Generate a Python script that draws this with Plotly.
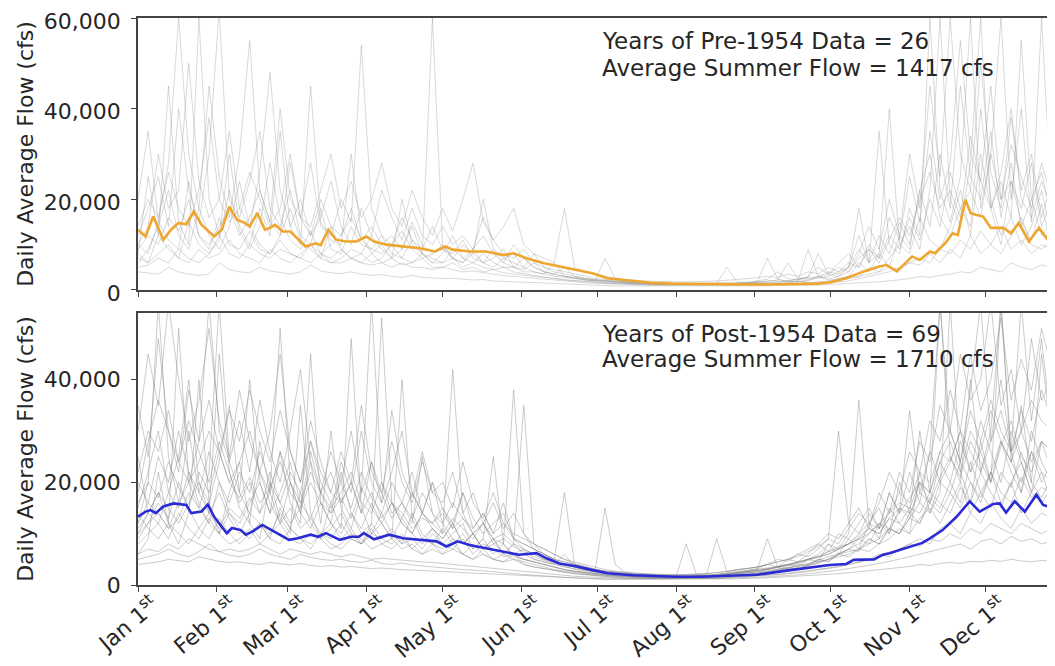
import plotly.graph_objects as go

# ---------------- data (flows in thousands of cfs) ----------------
MONTH_DAYS = [0, 31, 59, 90, 120, 151, 181, 212, 243, 273, 304, 334]
MONTH_LABELS = ["Jan 1<sup>st</sup>", "Feb 1<sup>st</sup>", "Mar 1<sup>st</sup>", "Apr 1<sup>st</sup>",
                "May 1<sup>st</sup>", "Jun 1<sup>st</sup>", "Jul 1<sup>st</sup>", "Aug 1<sup>st</sup>",
                "Sep 1<sup>st</sup>", "Oct 1<sup>st</sup>", "Nov 1<sup>st</sup>", "Dec 1<sup>st</sup>"]

SAMPLE_DAYS = list(range(0, 361, 4))

PRE_YEARS = [
    [12, 18, 25, 14, 40, 22, 15, 30, 62, 20, 16, 24, 35, 18, 14, 22, 12, 10, 18, 9,
     8, 14, 10, 9, 12, 8, 7, 11, 8, 7, 6, 9, 7, 6, 8, 6, 5, 5, 4, 4,
     3.5, 3, 2.8, 2.5, 2.2, 2, 1.8, 1.6, 1.5, 1.4, 1.3, 1.3, 1.2, 1.2, 1.2, 1.1, 1.1, 1.1, 1.1, 1.2,
     1.2, 1.3, 1.3, 1.4, 1.5, 2, 1.6, 1.5, 1.8, 2.5, 3, 6, 4, 8, 5, 12, 9, 22, 14, 30,
     18, 45, 25, 20, 35, 16, 28, 14, 20, 12, 15],
    [8, 6, 12, 9, 7, 15, 10, 8, 11, 22, 13, 9, 14, 28, 16, 11, 9, 13, 8, 10,
     12, 18, 11, 9, 8, 10, 13, 9, 7, 8, 10, 7, 6, 9, 12, 8, 6, 5, 7, 5,
     4, 3.5, 5, 3, 2.5, 2.2, 2, 1.8, 1.6, 1.5, 1.4, 1.3, 1.3, 1.2, 1.2, 1.2, 1.2, 1.3, 1.2, 1.3,
     1.4, 1.5, 1.4, 1.5, 1.6, 1.8, 2, 3, 2.2, 2.5, 3, 2.8, 5, 4, 7, 10, 8, 16, 11, 9,
     14, 22, 12, 30, 18, 10, 24, 15, 11, 19, 9],
    [4, 3.8, 3.5, 5, 4, 3.5, 3.2, 3.5, 6, 4.5, 4, 3.8, 5, 4.2, 3.8, 3.5, 4, 5.5, 4.2, 3.8,
     3.6, 4, 3.5, 3.2, 3.4, 3, 2.8, 3.2, 2.8, 2.6, 2.5, 2.6, 2.4, 2.2, 2.3, 2, 1.9, 1.8, 1.7, 1.6,
     1.5, 1.4, 1.3, 1.2, 1.1, 1.0, 1.0, 0.9, 0.9, 0.9, 0.9, 0.8, 0.8, 0.8, 0.8, 0.8, 0.8, 0.8, 0.8, 0.9,
     0.9, 0.9, 0.9, 1.0, 1.0, 1.0, 1.1, 1.1, 1.2, 1.3, 1.4, 1.5, 1.6, 1.8, 2, 2.2, 2.5, 3, 2.8, 3.2,
     3.5, 4, 3.8, 5, 4.5, 4, 6, 5, 4.5, 5.5, 5],
    [20, 35, 15, 28, 60, 30, 18, 45, 25, 16, 30, 55, 22, 15, 40, 20, 16, 28, 14, 12,
     20, 15, 54, 18, 12, 10, 16, 11, 9, 14, 9, 8, 11, 7, 6, 9, 7, 6, 5, 8,
     5, 4, 3.5, 3, 2.6, 2.3, 2.1, 2, 1.8, 1.7, 1.6, 1.5, 1.5, 1.4, 1.4, 1.3, 1.3, 1.4, 1.5, 1.4,
     1.5, 1.8, 7, 2.5, 1.8, 2, 9, 3, 2.5, 3, 4, 8, 14, 9, 20, 12, 30, 18, 45, 25,
     60, 30, 22, 50, 26, 18, 38, 22, 30, 16, 24],
    [6, 9, 14, 22, 12, 9, 18, 12, 9, 14, 24, 14, 10, 8, 12, 18, 11, 9, 7, 14,
     9, 7, 8, 12, 9, 7, 20, 10, 8, 6, 8, 12, 7, 9, 6, 5, 7, 8, 5, 4,
     3.5, 6, 3, 2.6, 2.2, 2.0, 7, 2.5, 1.8, 1.6, 1.5, 1.4, 1.3, 1.3, 1.2, 1.2, 1.3, 1.3, 1.3, 1.3,
     1.4, 1.6, 1.5, 1.7, 2, 1.8, 2.2, 2.5, 3, 4, 5, 9, 6, 12, 8, 15, 10, 22, 30, 16,
     12, 18, 14, 40, 20, 12, 16, 10, 14, 22, 12],
    [10, 14, 30, 18, 22, 50, 24, 16, 20, 35, 18, 14, 26, 48, 22, 14, 20, 12, 16, 24,
     14, 10, 18, 12, 22, 16, 11, 18, 12, 10, 14, 10, 12, 9, 16, 11, 8, 7, 9, 6,
     5, 4.5, 4, 3.5, 3, 2.6, 2.3, 2.1, 2, 1.8, 1.7, 1.6, 1.5, 1.5, 1.5, 1.4, 1.5, 1.6, 1.5, 1.6,
     1.7, 2, 2.4, 4, 2.5, 2.2, 3, 5, 3.5, 6, 8, 5, 10, 7, 16, 11, 25, 15, 35, 20,
     28, 55, 30, 24, 45, 20, 32, 25, 18, 28, 20],
    [5, 5.5, 7, 6, 9, 7, 6, 8, 12, 8, 7, 10, 8, 7, 9, 8, 7, 6, 8, 6,
     6, 7, 6, 5.5, 6, 5, 6, 5, 5, 4.5, 5, 4.5, 4, 4.2, 3.8, 3.5, 3.2, 3, 2.8, 2.5,
     2.3, 2.1, 2, 1.8, 1.6, 1.5, 1.4, 1.3, 1.2, 1.2, 1.1, 1.1, 1.1, 1.0, 1.0, 1.0, 1.0, 1.0, 1.0, 1.0,
     1.0, 1.1, 1.1, 1.2, 1.2, 1.3, 1.4, 1.5, 1.6, 1.8, 2, 2.5, 3, 3.5, 4, 5, 6, 5.5, 8, 6,
     9, 7, 12, 8, 10, 14, 9, 11, 8, 10, 9],
    [8, 25, 12, 45, 15, 10, 60, 20, 12, 30, 14, 10, 18, 12, 35, 14, 10, 45, 15, 11,
     10, 30, 12, 8, 10, 7, 9, 14, 8, 60, 10, 7, 6, 8, 20, 9, 6, 10, 7, 5,
     4, 3.5, 3, 2.8, 2.5, 2.2, 2, 1.9, 1.8, 1.7, 1.6, 1.5, 1.5, 1.4, 1.4, 1.4, 1.4, 1.5, 1.4, 1.5,
     1.6, 1.7, 1.9, 2.2, 2, 2.5, 2.8, 8, 3.5, 3, 5, 12, 6, 35, 10, 8, 18, 12, 60, 22,
     15, 25, 60, 18, 30, 60, 20, 40, 15, 60, 18],
    [14, 20, 16, 26, 18, 14, 22, 38, 20, 15, 18, 26, 20, 14, 18, 30, 16, 12, 20, 14,
     12, 16, 11, 14, 10, 12, 9, 15, 10, 8, 9, 7, 10, 8, 6, 7, 9, 5, 4.5, 6,
     4, 3.4, 3, 2.6, 2.3, 2.1, 1.9, 1.7, 1.6, 1.5, 1.4, 1.4, 1.3, 1.3, 1.3, 1.3, 1.4, 1.4, 5, 1.8,
     1.6, 1.8, 2, 2.2, 6, 2.5, 2.4, 2.8, 3.5, 5, 4, 7, 9, 6, 11, 16, 12, 20, 26, 18,
     22, 16, 34, 24, 18, 26, 40, 20, 16, 24, 18],
    [7, 6, 8, 10, 7, 6, 9, 7, 8, 11, 8, 7, 6, 9, 7, 6, 8, 10, 7, 6,
     7, 9, 8, 6, 7, 10, 7, 6, 8, 6, 6, 7, 5, 6, 5, 4.5, 5, 4, 3.6, 3.2,
     2.8, 2.5, 2.2, 2, 1.8, 1.6, 1.5, 1.4, 1.3, 1.2, 1.2, 1.1, 1.1, 1.1, 1.1, 1.1, 1.1, 1.1, 1.1, 1.2,
     1.2, 1.2, 1.3, 1.3, 1.4, 1.5, 1.6, 1.8, 2, 2.2, 2.5, 3, 3.5, 4, 5, 4.5, 6, 7, 6, 9,
     8, 11, 9, 13, 10, 8, 12, 16, 10, 9, 11],
    [9, 12, 10, 16, 13, 20, 12, 10, 14, 18, 12, 16, 22, 15, 12, 28, 16, 14, 22, 30,
     18, 24, 16, 20, 28, 18, 14, 22, 16, 12, 18, 13, 20, 28, 15, 11, 14, 18, 10, 8,
     7, 6, 18, 5, 4, 3.5, 3, 2.6, 2.3, 2.1, 2, 1.9, 1.8, 1.8, 1.8, 1.8, 1.9, 2, 2.1, 2.3,
     2.5, 2.7, 3, 2.8, 3.5, 3, 4, 3.6, 5, 4, 6, 5, 9, 7, 12, 9, 16, 11, 20, 14,
     26, 18, 22, 16, 30, 20, 24, 18, 28, 14, 20],
    [10, 8, 15, 11, 9, 24, 12, 9, 16, 10, 9, 13, 9, 8, 11, 8, 7, 10, 8, 7,
     9, 7, 6, 8, 6, 7, 5.5, 6, 7, 5, 5, 6, 4.5, 5, 4, 4.5, 3.8, 3.5, 3.2, 3,
     2.8, 2.5, 2.3, 2.1, 1.9, 1.8, 1.6, 1.5, 1.4, 1.3, 1.3, 1.2, 1.2, 1.2, 1.2, 1.2, 1.2, 1.2, 1.3, 1.3,
     1.4, 1.5, 1.6, 1.8, 2, 2.3, 2.6, 3, 4, 3.5, 5, 18, 6, 8, 40, 10, 14, 9, 22, 60,
     20, 14, 28, 60, 18, 24, 16, 55, 20, 26, 16],
]

POST_YEARS = [
    [15, 22, 30, 18, 25, 40, 20, 16, 24, 35, 18, 14, 22, 16, 12, 20, 14, 11, 16, 12,
     10, 14, 11, 16, 12, 9, 13, 10, 8, 11, 9, 12, 8, 10, 7, 9, 6, 8, 6, 5,
     4.5, 4, 3.5, 3, 2.6, 2.3, 2.1, 2, 1.8, 1.7, 1.6, 1.5, 1.5, 1.4, 1.4, 1.5, 1.6, 1.7, 1.8, 2,
     2.1, 2.3, 2.6, 3, 3.2, 3.6, 4, 4.5, 5, 6, 7, 9, 8, 12, 10, 15, 13, 20, 16, 24,
     20, 28, 22, 32, 26, 20, 30, 24, 18, 28, 22],
    [8, 10, 12, 9, 14, 11, 9, 13, 10, 8, 9, 11, 8, 10, 12, 9, 8, 10, 9, 7,
     8, 10, 9, 7, 8, 9, 7, 8, 6, 7, 6, 7, 6, 5, 6, 5, 4.5, 5, 4, 3.5,
     3.2, 2.8, 2.5, 2.2, 2, 1.8, 1.6, 1.5, 1.4, 1.3, 1.3, 1.2, 1.2, 1.2, 1.2, 1.2, 1.3, 1.3, 1.4, 1.5,
     1.6, 1.7, 1.8, 2, 2.2, 2.4, 2.6, 3, 3.2, 3.5, 4, 4.5, 5, 6, 5.5, 7, 8, 9, 8, 11,
     12, 10, 14, 12, 16, 13, 11, 15, 12, 14, 13],
    [30, 45, 35, 55, 40, 28, 36, 50, 32, 25, 38, 28, 22, 30, 45, 26, 20, 32, 24, 18,
     26, 20, 35, 22, 18, 28, 20, 16, 24, 18, 16, 22, 14, 18, 12, 16, 11, 14, 10, 8,
     7, 6, 5, 4.5, 4, 3.5, 3, 2.7, 2.5, 2.3, 2.2, 2.1, 2, 2, 2, 2.1, 2.2, 2.4, 2.6, 3,
     3.2, 3.5, 4, 4.5, 5, 6, 7, 8, 10, 9, 12, 15, 11, 18, 14, 22, 18, 28, 24, 35,
     30, 45, 36, 40, 55, 35, 42, 30, 48, 36, 40],
    [4, 4.2, 4.5, 5, 4.8, 4.5, 5.5, 5, 4.6, 4.4, 4.5, 4.2, 4, 4.4, 4.1, 3.9, 4.2, 3.8, 3.6, 3.8,
     3.5, 3.6, 3.4, 3.2, 3.3, 3.1, 3, 2.9, 2.8, 2.7, 2.6, 2.5, 2.4, 2.3, 2.2, 2.1, 2, 1.9, 1.8, 1.7,
     1.6, 1.5, 1.4, 1.3, 1.2, 1.2, 1.1, 1.1, 1.1, 1.1, 1.1, 1.1, 1.1, 1.1, 1.1, 1.1, 1.1, 1.2, 1.2, 1.2,
     1.3, 1.3, 1.4, 1.5, 1.6, 1.7, 1.8, 1.9, 2, 2.2, 2.4, 2.6, 2.8, 3, 3.2, 3.4, 3.6, 4, 3.8, 4.2,
     4.4, 4.2, 4.6, 4.5, 4.8, 4.6, 5, 4.7, 4.5, 4.8, 4.6],
    [12, 20, 55, 25, 16, 30, 18, 14, 45, 22, 15, 12, 28, 18, 50, 20, 14, 24, 12, 30,
     15, 11, 18, 55, 20, 14, 16, 12, 25, 14, 10, 42, 14, 10, 12, 9, 8, 38, 10, 7,
     6, 5, 4, 3.5, 3, 2.6, 2.3, 2.1, 2, 1.9, 1.8, 1.7, 1.7, 1.6, 1.6, 1.6, 1.7, 1.8, 2, 2.2,
     2.4, 2.6, 3, 3.5, 3.8, 4.5, 5, 6, 8, 7, 10, 36, 12, 15, 10, 20, 14, 30, 18, 55,
     25, 20, 40, 22, 30, 55, 24, 35, 20, 45, 28],
    [10, 14, 12, 18, 15, 22, 16, 12, 20, 14, 12, 16, 20, 14, 18, 24, 16, 13, 18, 22,
     16, 20, 14, 24, 18, 13, 16, 22, 14, 12, 15, 11, 18, 13, 10, 12, 14, 9, 8, 7,
     6, 5, 4.5, 4, 3.5, 3, 2.6, 2.3, 2.1, 2, 1.9, 1.8, 1.7, 1.7, 1.7, 1.7, 1.8, 1.9, 2, 2.2,
     2.3, 2.5, 2.8, 3, 3.4, 3.8, 4.2, 4.8, 5.5, 6, 6.5, 7, 8, 9, 11, 10, 13, 12, 16, 14,
     18, 15, 20, 17, 22, 18, 16, 21, 17, 19, 18],
    [18, 28, 36, 30, 24, 32, 26, 20, 28, 22, 16, 20, 14, 18, 12, 15, 11, 13, 10, 12,
     9, 11, 8, 10, 9, 8, 10, 7, 9, 8, 7, 9, 6, 8, 6, 5, 6, 5, 4.5, 4,
     3.5, 3, 2.7, 2.4, 2.2, 2, 1.8, 1.7, 1.6, 1.5, 1.5, 1.4, 1.4, 1.4, 1.4, 1.5, 1.5, 1.6, 1.7, 1.9,
     2, 2.2, 2.5, 3, 3.5, 3, 4, 5, 4.5, 6, 7, 8, 10, 12, 11, 14, 17, 20, 18, 24,
     28, 22, 30, 26, 34, 28, 24, 30, 36, 32, 30],
    [6, 9, 22, 12, 8, 14, 40, 16, 10, 18, 24, 12, 9, 20, 13, 10, 35, 14, 9, 16,
     11, 48, 15, 10, 12, 9, 40, 13, 9, 11, 8, 10, 12, 7, 9, 25, 8, 6, 7, 5,
     4.5, 4, 6, 3.5, 3, 2.6, 15, 4, 2.4, 2.1, 2, 1.8, 1.7, 1.6, 8, 2, 1.8, 1.9, 2.2, 2.5,
     2.6, 3, 9, 3.5, 4, 3.6, 5, 4.5, 8, 6, 9, 7, 12, 9, 15, 12, 10, 22, 14, 18,
     55, 22, 16, 28, 20, 55, 26, 18, 30, 24, 20],
    [20, 16, 25, 20, 30, 22, 18, 26, 20, 16, 22, 18, 26, 20, 16, 22, 18, 28, 20, 16,
     20, 15, 22, 17, 14, 20, 16, 13, 18, 14, 12, 16, 13, 11, 14, 10, 12, 9, 7, 6,
     5, 4.5, 4, 3.5, 3, 2.7, 2.4, 2.2, 2, 1.9, 1.8, 1.7, 1.7, 1.6, 1.6, 1.7, 1.8, 2, 2.4, 2.6,
     2.8, 3, 3.3, 3.6, 4, 4.5, 5, 5.5, 6, 7, 8, 9, 10, 12, 14, 16, 15, 20, 18, 26,
     24, 30, 26, 22, 28, 34, 26, 30, 24, 28, 26],
    [6, 7, 6.5, 8, 7, 9, 8, 7, 6.5, 7, 6.5, 7, 8, 7, 6, 7, 6.5, 6, 6.5, 6,
     5.5, 6, 5.5, 5, 5.2, 5, 4.8, 4.6, 4.5, 4.4, 4.2, 4, 3.8, 3.6, 3.4, 3.2, 3, 2.8, 2.6, 2.4,
     2.2, 2, 1.8, 1.7, 1.6, 1.5, 1.4, 1.4, 1.3, 1.3, 1.3, 1.3, 1.3, 1.3, 1.3, 1.3, 1.4, 1.4, 1.5, 1.6,
     1.7, 1.8, 2, 2.1, 2.3, 2.5, 2.7, 3, 3.3, 3.6, 4, 4.4, 5, 5.5, 6, 7, 8, 7.5, 9, 8.5,
     10, 9, 11, 10, 12, 11, 10, 12, 11, 10, 11],
    [25, 14, 18, 12, 50, 20, 15, 22, 55, 24, 18, 40, 20, 14, 26, 16, 12, 45, 16, 12,
     22, 14, 10, 12, 52, 16, 12, 10, 14, 20, 12, 9, 8, 10, 7, 9, 6, 8, 35, 8,
     6, 5, 18, 4, 3.4, 3, 2.7, 2.5, 2.3, 2.2, 2.1, 2, 2, 1.9, 1.9, 2, 2.1, 9, 2.6, 3,
     3.2, 3.5, 4, 5, 4.6, 6, 5.5, 7, 9, 30, 12, 10, 14, 11, 18, 14, 34, 18, 26, 55,
     30, 24, 38, 55, 28, 40, 26, 55, 32, 48, 30],
    [12, 16, 14, 11, 13, 18, 15, 12, 10, 14, 11, 9, 12, 10, 14, 11, 9, 8, 10, 9,
     12, 9, 8, 10, 14, 10, 8, 9, 7, 10, 8, 7, 9, 6, 8, 7, 5.5, 6, 5, 4.5,
     4, 3.4, 3, 2.6, 2.3, 2.1, 1.9, 1.8, 1.7, 1.6, 1.5, 1.5, 1.5, 1.5, 1.5, 1.5, 1.6, 1.7, 1.8, 2,
     2.1, 2.3, 2.5, 2.8, 3, 3.4, 3.8, 4.2, 5, 5.5, 6, 7, 6.5, 8, 9, 11, 10, 13, 15, 12,
     16, 20, 14, 18, 22, 16, 20, 14, 18, 22, 16],
    [22, 30, 26, 34, 24, 20, 28, 36, 26, 20, 24, 30, 22, 18, 26, 20, 16, 22, 18, 15,
     18, 22, 16, 14, 20, 16, 13, 18, 14, 12, 14, 11, 13, 10, 12, 9, 10, 8, 7, 6,
     5, 4.5, 4, 3.4, 3, 2.7, 2.4, 2.2, 2, 1.9, 1.8, 1.8, 1.7, 1.7, 1.7, 1.8, 1.9, 2, 2.2, 2.4,
     2.6, 2.9, 3.2, 3.6, 4, 4.4, 5, 5.5, 6.5, 7, 8, 10, 12, 11, 14, 18, 16, 22, 20, 26,
     30, 24, 34, 28, 36, 30, 26, 34, 28, 38, 32],
    [9, 12, 16, 13, 20, 15, 11, 14, 18, 13, 10, 14, 12, 9, 15, 11, 18, 12, 9, 11,
     14, 10, 8, 12, 9, 11, 8, 14, 10, 8, 11, 8, 10, 7, 9, 6, 8, 5.5, 5, 4.5,
     4, 3.5, 3, 2.7, 2.4, 2.2, 2, 1.8, 1.7, 1.6, 1.5, 1.5, 1.4, 1.4, 1.4, 1.4, 1.5, 1.6, 1.7, 1.9,
     2, 2.2, 2.4, 2.8, 3.2, 3, 3.8, 4.4, 5, 6, 5.5, 7, 9, 8, 11, 10, 14, 12, 17, 15,
     20, 16, 24, 18, 15, 22, 19, 26, 20, 17, 21],
    [35, 25, 48, 30, 22, 38, 28, 55, 30, 24, 32, 22, 36, 26, 20, 30, 42, 24, 18, 26,
     20, 30, 18, 24, 16, 22, 30, 18, 14, 20, 15, 12, 18, 11, 14, 10, 16, 9, 8, 7,
     6, 5, 4.5, 4, 3.5, 3, 2.7, 2.5, 2.3, 2.2, 2.1, 2, 2, 2, 2, 2.1, 2.2, 2.4, 2.6, 2.9,
     3.2, 3.5, 4, 4.5, 5, 5.5, 6.5, 7.5, 9, 8, 11, 14, 12, 16, 22, 18, 26, 22, 32, 28,
     38, 30, 45, 34, 40, 52, 36, 44, 38, 50, 42],
    [11, 14, 18, 15, 12, 16, 20, 14, 11, 15, 13, 17, 14, 22, 16, 12, 15, 26, 18, 14,
     24, 18, 30, 20, 16, 34, 22, 17, 26, 18, 20, 15, 24, 16, 13, 18, 12, 10, 9, 8,
     7, 6, 5, 4.2, 3.6, 3.1, 2.7, 2.4, 2.2, 2, 1.9, 1.8, 1.8, 1.7, 1.7, 1.8, 1.9, 2, 2.2, 2.4,
     2.6, 2.8, 3.1, 3.5, 3.9, 4.4, 5, 5.6, 6.5, 7.5, 8, 9, 11, 10, 13, 12, 15, 14, 18, 16,
     14, 19, 16, 22, 18, 15, 20, 24, 18, 16, 19],
    [5, 5.5, 6, 7, 6, 5.5, 6.5, 8, 6.5, 5.8, 5.5, 6, 7, 6, 5.5, 5, 6, 5.4, 5, 4.8,
     5, 4.6, 4.4, 4.8, 4.2, 4, 4.3, 3.9, 3.7, 3.5, 3.4, 3.2, 3, 2.9, 2.8, 2.6, 2.4, 2.2, 2, 1.9,
     1.8, 1.6, 1.5, 1.4, 1.3, 1.3, 1.2, 1.2, 1.2, 1.2, 1.2, 1.2, 1.2, 1.2, 1.2, 1.2, 1.2, 1.3, 1.3, 1.4,
     1.4, 1.5, 1.6, 1.7, 1.8, 2, 2.2, 2.4, 2.6, 2.9, 3.2, 3.5, 3.8, 4.2, 4.6, 5, 5.5, 6, 6.5, 7,
     7.5, 8, 7, 8.5, 9, 8, 9.5, 8.5, 9, 8, 8.5],
    [10, 12, 14, 11, 16, 20, 24, 30, 26, 34, 28, 38, 30, 24, 34, 26, 20, 28, 22, 18,
     16, 20, 14, 18, 13, 16, 12, 10, 14, 11, 9, 12, 8, 10, 7, 8, 6.5, 6, 5, 4.5,
     4, 3.5, 3, 2.7, 2.4, 2.2, 2, 1.8, 1.7, 1.6, 1.6, 1.5, 1.5, 1.5, 1.5, 1.6, 1.7, 1.8, 2, 2.2,
     2.4, 2.6, 3, 3.4, 3.2, 4, 3.8, 5, 4.6, 6, 7, 6.5, 9, 8, 11, 10, 13, 16, 14, 20,
     18, 24, 20, 16, 22, 28, 22, 18, 26, 20, 24],
    [14, 11, 9, 12, 10, 8, 11, 9, 13, 10, 8, 10, 12, 9, 8, 11, 9, 7, 10, 8,
     7, 9, 8, 11, 8, 7, 9, 7, 6, 8, 6, 8, 6, 5, 7, 5, 4.5, 6, 4, 3.5,
     3.2, 2.8, 2.5, 2.2, 2, 1.8, 1.7, 1.6, 1.5, 1.5, 1.4, 1.4, 1.4, 1.4, 1.4, 1.5, 1.6, 1.8, 2, 2.4,
     2.8, 3.2, 4, 3.5, 5, 4.5, 6, 8, 6.5, 10, 9, 12, 15, 11, 18, 14, 22, 16, 26, 20,
     24, 30, 22, 26, 20, 28, 24, 20, 26, 22, 20],
    [16, 20, 17, 24, 19, 15, 22, 18, 26, 20, 17, 21, 16, 19, 24, 18, 15, 20, 16, 14,
     17, 13, 19, 15, 12, 16, 14, 11, 13, 12, 10, 13, 11, 9, 12, 8, 9, 7.5, 6.5, 5.5,
     4.8, 4.2, 3.6, 3.2, 2.8, 2.5, 2.3, 2.1, 1.9, 1.8, 1.7, 1.7, 1.6, 1.6, 1.6, 1.7, 1.8, 1.9, 2.1, 2.3,
     2.5, 2.8, 3.1, 3.4, 3.8, 4.2, 4.8, 5.4, 6, 7, 8, 9.5, 11, 10, 13, 15, 14, 18, 16, 21,
     25, 21, 28, 24, 20, 27, 32, 25, 22, 28, 26],
]

PRE_MEAN_DAYS = [0, 3, 6, 10, 13, 16, 19, 22, 25, 30, 33, 36, 39, 42, 44, 47, 50, 52, 54, 57,
                 60, 66, 70, 72, 75, 78, 82, 86, 90, 93, 98, 104, 111, 117, 121, 124, 131, 137, 144, 148,
                 153, 160, 166, 173, 179, 185, 189, 195, 202, 210, 220, 230, 240, 250, 260, 268, 273, 279, 286, 292,
                 295, 299, 305, 308, 312, 314, 318, 321, 323, 326, 328, 330, 333, 336, 341, 344, 347, 351, 355, 358, 361]
PRE_MEAN = [13.3, 11.8, 16.2, 11.1, 13.3, 14.8, 14.5, 17.3, 14.4, 11.8, 13.3, 18.4, 15.5, 14.8, 14.0, 17.0, 13.3, 13.7, 14.4, 12.9,
            12.9, 9.6, 10.3, 9.9, 13.3, 11.1, 10.7, 10.7, 11.8, 10.7, 10.0, 9.6, 9.2, 8.5, 9.6, 8.9, 8.5, 8.5, 7.7, 8.1,
            7.0, 5.9, 5.2, 4.4, 3.7, 2.6, 2.4, 2.0, 1.6, 1.4, 1.3, 1.3, 1.2, 1.2, 1.3, 1.4, 1.7, 2.6, 4.1, 5.2,
            5.5, 4.1, 7.4, 6.6, 8.5, 8.1, 10.3, 12.5, 12.1, 19.9, 17.0, 16.6, 16.2, 13.7, 13.7, 12.5, 14.8, 10.7, 13.7, 11.4, 14.4]

POST_MEAN_DAYS = [0, 3, 5, 7, 10, 14, 19, 21, 25, 27.5, 30, 35, 37, 40.5, 42.5, 45, 49, 53.5, 59.5, 63,
                  68, 71, 74, 79.5, 84, 87, 89, 93, 99, 104.5, 111, 117.6, 121.5, 126, 130.6, 137, 144, 150, 157, 161,
                  166, 173, 179, 185, 195, 205, 212, 222, 232, 244, 257, 272.5, 279, 282, 290, 293.5, 296, 303, 309, 312,
                  317, 322.5, 327.7, 331.6, 337, 339.5, 342, 345.4, 349.4, 354, 356.6, 360.5]
POST_MEAN = [13.3, 14.3, 14.6, 14.0, 15.3, 15.9, 15.6, 14.0, 14.3, 15.7, 13.3, 10.1, 11.1, 10.7, 9.8, 10.4, 11.7, 10.4, 8.8, 9.1,
             9.8, 9.4, 10.1, 8.8, 9.4, 9.4, 10.1, 8.9, 9.8, 9.1, 8.8, 8.5, 7.5, 8.5, 7.8, 7.2, 6.5, 5.9, 6.2, 5.2,
             4.2, 3.6, 2.9, 2.3, 1.9, 1.7, 1.6, 1.6, 1.8, 2.0, 2.9, 3.9, 4.1, 4.9, 5.0, 5.9, 6.2, 7.2, 8.2, 9.1,
             10.7, 13.3, 16.3, 14.3, 15.8, 15.9, 14.1, 16.3, 14.3, 17.6, 15.6, 15.0]

PRE_TEXT = ["Years of Pre-1954 Data = 26", "Average Summer Flow = 1417 cfs"]
POST_TEXT = ["Years of Post-1954 Data = 69", "Average Summer Flow = 1710 cfs"]

KCFS = 1000  # unit conversion: thousands of cfs -> cfs

# ---------------- figure ----------------
FONT = "DejaVu Sans, Arial, sans-serif"
TXT = "#262626"
GRAY_TOP = "rgba(128,128,128,0.30)"
GRAY_BOT = "rgba(128,128,128,0.40)"

fig = go.Figure()

for yr in PRE_YEARS:
    fig.add_trace(go.Scatter(x=SAMPLE_DAYS, y=[v * KCFS for v in yr], mode="lines",
                             line=dict(color=GRAY_TOP, width=1), xaxis="x", yaxis="y",
                             showlegend=False, hoverinfo="skip"))
fig.add_trace(go.Scatter(x=PRE_MEAN_DAYS, y=[v * KCFS for v in PRE_MEAN], mode="lines",
                         line=dict(color="#EEA62E", width=2.6), xaxis="x", yaxis="y",
                         showlegend=False))

for yr in POST_YEARS:
    fig.add_trace(go.Scatter(x=SAMPLE_DAYS, y=[v * KCFS for v in yr], mode="lines",
                             line=dict(color=GRAY_BOT, width=1), xaxis="x2", yaxis="y2",
                             showlegend=False, hoverinfo="skip"))
fig.add_trace(go.Scatter(x=POST_MEAN_DAYS, y=[v * KCFS for v in POST_MEAN], mode="lines",
                         line=dict(color="#2B2BD6", width=2.6), xaxis="x2", yaxis="y2",
                         showlegend=False))

axis_common = dict(showline=True, linecolor="#444", linewidth=1.5, mirror=True,
                   ticks="outside", ticklen=5, tickwidth=1.2, tickcolor="#444",
                   showgrid=False, zeroline=False, automargin=False,
                   ticklabeloverflow="allow",
                   tickfont=dict(family=FONT, size=22, color=TXT))

X_RANGE = [0, 360.5]
TOP_DOM = [0.5203, 1.0]
BOT_DOM = [0.0, 0.4797]
TITLE_FONT = dict(family=FONT, size=22, color=TXT)

# the page body adds an 8px offset; the figure is sized to fill the rest of the window
fig.update_layout(
    width=1047, height=658,
    margin=dict(l=130, r=2, t=10, b=81),
    paper_bgcolor="white", plot_bgcolor="white",
    font=dict(family=FONT, color=TXT),
    xaxis=dict(axis_common, domain=[0, 1], anchor="y", range=X_RANGE,
               tickmode="array", tickvals=MONTH_DAYS, showticklabels=False),
    yaxis=dict(axis_common, domain=TOP_DOM, anchor="x", range=[0, 60000],
               tickmode="array", tickvals=[0, 20000, 40000, 60000], tickformat=",d",
               ticklabelstandoff=6, ticklabelshift=3,
               title=dict(text="Daily Average Flow (cfs)", font=TITLE_FONT, standoff=4)),
    xaxis2=dict(axis_common, domain=[0, 1], anchor="y2", range=X_RANGE,
                tickmode="array", tickvals=MONTH_DAYS, ticktext=MONTH_LABELS, tickangle=-40,
                ticklabelshift=15, ticklabelstandoff=-8,
                tickfont=dict(family=FONT, size=22, color=TXT)),
    yaxis2=dict(axis_common, domain=BOT_DOM, anchor="x2", range=[0, 53000],
                tickmode="array", tickvals=[0, 20000, 40000], tickformat=",d",
                ticklabelstandoff=6,
                title=dict(text="Daily Average Flow (cfs)", font=TITLE_FONT, standoff=4)),
)

ann_font = dict(family=FONT, size=23, color=TXT)
for txt, yy in zip(PRE_TEXT, [0.9594, 0.9118]):
    fig.add_annotation(text=txt, xref="paper", yref="paper", x=0.5049, y=yy,
                       xanchor="left", yanchor="middle", showarrow=False, font=ann_font)
for txt, yy in zip(POST_TEXT, [0.4427, 0.3986]):
    fig.add_annotation(text=txt, xref="paper", yref="paper", x=0.5049, y=yy,
                       xanchor="left", yanchor="middle", showarrow=False, font=ann_font)

fig.write_html("out.html")
